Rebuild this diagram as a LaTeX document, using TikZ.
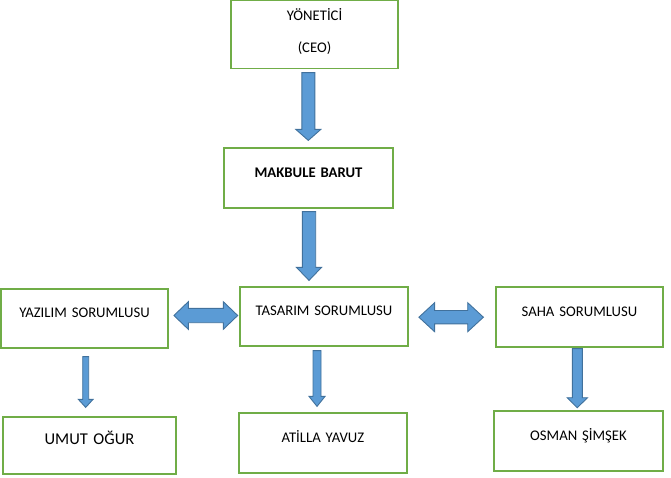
\documentclass[tikz,border=0pt]{standalone}
\usepackage{fontspec}
\setmainfont{Carlito}
\usetikzlibrary{calc}
\definecolor{boxgreen}{RGB}{112,173,71}
\definecolor{arrowblue}{RGB}{91,155,213}
\definecolor{arrowedge}{RGB}{65,113,156}

\tikzset{
  box/.style={draw=boxgreen, line width=1.2pt, align=center, inner sep=0pt,
              font=\fontsize{14.7}{17}\selectfont},
  blockarrow/.style={fill=arrowblue, draw=arrowedge, line width=0.9pt, line join=miter}
}

% block arrow pointing down: tail, tip, shaft half, head half, head length
\newcommand{\downblock}[5]{%
  \draw[blockarrow] let \p1=#1, \p2=#2 in
    (\x1-#3pt,\y1) -- (\x1+#3pt,\y1) -- (\x1+#3pt,\y2+#5pt) -- (\x1+#4pt,\y2+#5pt)
    -- (\x1,\y2) -- (\x1-#4pt,\y2+#5pt) -- (\x1-#3pt,\y2+#5pt) -- cycle;}
% block arrow with two heads: left tip, right tip, shaft half, head half, head length
\newcommand{\twoblock}[5]{%
  \draw[blockarrow] let \p1=#1, \p2=#2 in
    (\x1,\y1) -- (\x1+#5pt,\y1+#4pt) -- (\x1+#5pt,\y1+#3pt) -- (\x2-#5pt,\y1+#3pt)
    -- (\x2-#5pt,\y1+#4pt) -- (\x2,\y1) -- (\x2-#5pt,\y1-#4pt) -- (\x2-#5pt,\y1-#3pt)
    -- (\x1+#5pt,\y1-#3pt) -- (\x1+#5pt,\y1-#4pt) -- cycle;}

\begin{document}
\begin{tikzpicture}[x=1pt, y=-1pt]
  \useasboundingbox (0,0) rectangle (671,477);

  % CEO
  \node[box, text width=167pt, text height=20pt, text depth=48pt] (ceo) at (314.5,34.5)
    {YÖNETİCİ\\[14.5pt](CEO)};

  % Makbule Barut
  \node[box, text width=169pt, text height=29.7pt, text depth=30.3pt] (mak) at (308.5,178)
    {\textbf{MAKBULE BARUT}};

  % middle row
  \node[box, text width=167pt, text height=28.7pt, text depth=30.3pt] (yaz) at (84.5,318.5)
    {YAZILIM SORUMLUSU};
  \node[box, text width=168pt, text height=28pt, text depth=31pt] (tas) at (324,316.5)
    {TASARIM SORUMLUSU};
  \node[box, text width=167pt, text height=29.7pt, text depth=30.3pt] (saha) at (579.5,317)
    {SAHA SORUMLUSU};

  % bottom row
  \node[box, text width=173pt, text height=27pt, text depth=30pt,
        font=\fontsize{16.5}{19}\selectfont] (umut) at (89.5,445.5)
    {UMUT OĞUR\hspace*{12pt}};
  \node[box, text width=168pt, text height=29.3pt, text depth=30.7pt] (atilla) at (323,443)
    {ATİLLA YAVUZ};
  \node[box, text width=169pt, text height=29pt, text depth=31pt] (osman) at (578.5,441)
    {OSMAN ŞİMŞEK};

  % Arrows
  \downblock{($(ceo.south)+(-6.2,3.5)$)}{($(mak.north)+(0,-7)$)}{6.5}{12.5}{11}
  \downblock{($(mak.south)+(0.5,3)$)}{($(tas.north)+(0,-6)$)}{6.7}{12.5}{13}
  \twoblock{($(yaz.east)+(5.3,-3)$)}{($(tas.west)+(-1.7,0)$)}{7.2}{13.8}{14.4}
  \twoblock{($(tas.east)+(10.3,0.7)$)}{($(saha.west)+(-12,0)$)}{6.7}{14.5}{15.7}
  \downblock{($(yaz.south)+(1.2,8)$)}{($(umut.north)+(0,-9)$)}{3}{7.3}{8}
  \downblock{($(tas.south)+(-7,4)$)}{($(atilla.north)+(0,-6)$)}{4}{8}{10}
  \downblock{($(saha.south)+(-2.2,1)$)}{($(osman.north)+(0,-2.7)$)}{5}{10.2}{10}
\end{tikzpicture}
\end{document}
